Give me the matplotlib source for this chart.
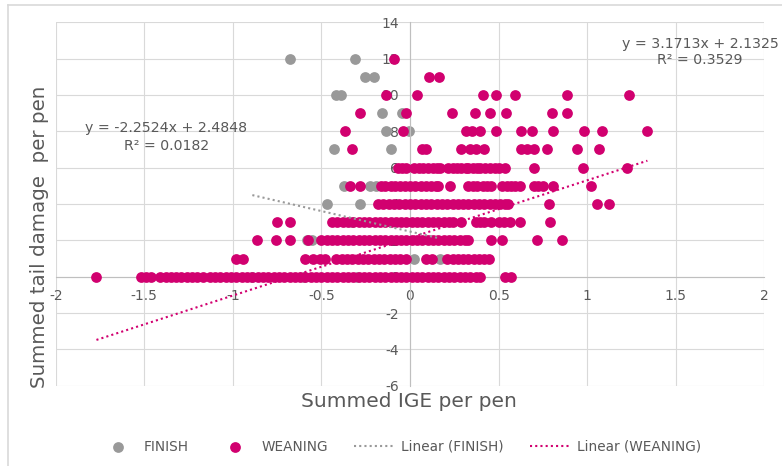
import matplotlib
matplotlib.use("Agg")
import matplotlib.pyplot as plt
from matplotlib.lines import Line2D
from matplotlib.ticker import FuncFormatter

plt.rcParams['font.family'] = ['DejaVu Sans']
plt.rcParams['axes.unicode_minus'] = False

# WEANING points, x values (summed IGE) per y level (summed tail damage)
weaning_rows = {
    12: [-0.09],
    11: [0.11, 0.165],
    10: [-0.135, 0.037, 0.41, 0.485, 0.595, 0.885, 1.235],
    9: [-0.28, -0.02, 0.235, 0.365, 0.45, 0.54, 0.80, 0.885],
    8: [-0.365, -0.04, 0.315, 0.35, 0.395, 0.485, 0.625, 0.69, 0.81, 0.98, 1.085, 1.34],
    7: [-0.325, 0.067, 0.09, 0.29, 0.34, 0.37, 0.42, 0.625, 0.66, 0.70, 0.775, 0.94, 1.065],
    6: [-0.07, -0.045, -0.02, 0.02, 0.05, 0.075, 0.10, 0.13, 0.155, 0.17, 0.215, 0.24, 0.265,
        0.29, 0.315, 0.33, 0.355, 0.38, 0.395, 0.425, 0.45, 0.48, 0.505, 0.535, 0.70, 0.975, 1.225],
    5: [-0.34, -0.285, -0.165, -0.14, -0.11, -0.085, -0.055, -0.03, 0.0, 0.03, 0.06, 0.09, 0.12,
        0.145, 0.16, 0.225, 0.33, 0.355, 0.38, 0.41, 0.435, 0.46, 0.52, 0.545, 0.57, 0.595, 0.62,
        0.70, 0.725, 0.75, 0.805, 1.02],
    4: [-0.18, -0.15, -0.12, -0.09, -0.06, -0.03, 0.0, 0.03, 0.06, 0.09, 0.12, 0.15, 0.18, 0.21,
        0.24, 0.27, 0.30, 0.33, 0.36, 0.39, 0.42, 0.45, 0.48, 0.51, 0.535, 0.555, 0.785, 1.055, 1.125],
    3: [-0.75, -0.68, -0.44, -0.41, -0.38, -0.35, -0.32, -0.29, -0.26, -0.23, -0.20, -0.17, -0.14,
        -0.11, -0.08, -0.05, -0.02, 0.01, 0.04, 0.07, 0.10, 0.13, 0.16, 0.19, 0.22, 0.245, 0.29,
        0.37, 0.395, 0.42, 0.46, 0.50, 0.53, 0.565, 0.62, 0.79],
    2: [-0.865, -0.755, -0.68, -0.575, -0.50, -0.47, -0.44, -0.41, -0.38, -0.35, -0.32, -0.29,
        -0.26, -0.23, -0.20, -0.17, -0.14, -0.11, -0.08, -0.05, -0.02, 0.01, 0.04, 0.07, 0.10,
        0.13, 0.16, 0.19, 0.22, 0.25, 0.28, 0.31, 0.33, 0.46, 0.52, 0.715, 0.86],
    1: [-0.985, -0.945, -0.59, -0.55, -0.51, -0.48, -0.415, -0.385, -0.355, -0.325, -0.295,
        -0.265, -0.235, -0.205, -0.175, -0.145, -0.115, -0.085, -0.055, -0.025, 0.09, 0.125,
        0.21, 0.24, 0.27, 0.30, 0.33, 0.36, 0.39, 0.42, 0.445],
    0: [-1.77, -1.52, -1.49, -1.46, -1.41, -1.38, -1.35, -1.32, -1.29, -1.26, -1.23, -1.20,
        -1.17, -1.13, -1.10, -1.07, -1.04, -1.01, -0.98, -0.95, -0.92, -0.89, -0.86, -0.83,
        -0.80, -0.77, -0.74, -0.71, -0.68, -0.65, -0.62, -0.59, -0.56, -0.53, -0.50, -0.47,
        -0.44, -0.41, -0.38, -0.35, -0.32, -0.29, -0.26, -0.23, -0.20, -0.17, -0.14, -0.11,
        -0.08, -0.05, -0.02, 0.01, 0.04, 0.07, 0.10, 0.13, 0.16, 0.19, 0.22, 0.25, 0.28,
        0.31, 0.34, 0.37, 0.395, 0.535, 0.57],
}

# FINISH points
finish_rows = {
    12: [-0.677, -0.31],
    11: [-0.255, -0.205],
    10: [-0.415, -0.39],
    9: [-0.16, -0.045],
    8: [-0.135, -0.005],
    7: [-0.43, -0.105],
    5: [-0.375, -0.225, -0.19],
    4: [-0.47, -0.28],
    3: [-0.33],
    2: [-0.58, -0.555],
    1: [0.02, 0.17],
    0: [-0.89, -0.6, -0.3],
}

# trendline coefficients shown on the chart
finish_fit = (-2.2524, 2.4848, 0.0182)
weaning_fit = (3.1713, 2.1325, 0.3529)

x_ticks = [-2, -1.5, -1, -0.5, 0, 0.5, 1, 1.5, 2]
y_ticks = [-6, -4, -2, 0, 2, 4, 6, 8, 10, 12, 14]

pink = '#d1006f'
grey = '#999999'
txt = '#595959'


def flatten(rows):
    xs, ys = [], []
    for yv, xl in rows.items():
        xs += xl
        ys += [yv] * len(xl)
    return xs, ys


fx, fy = flatten(finish_rows)
wx, wy = flatten(weaning_rows)

W, H = 782, 466
fig = plt.figure(figsize=(W / 100, H / 100), dpi=100)
ax = fig.add_axes([55.7 / W, 1 - 385.7 / H, 708.6 / W, 363.4 / H])

ax.set_xlim(-2, 2)
ax.set_ylim(-6, 14)
ax.set_xticks(x_ticks)
ax.set_yticks(y_ticks)
ax.xaxis.set_major_formatter(FuncFormatter(lambda v, p: '%g' % v))
ax.yaxis.set_major_formatter(FuncFormatter(lambda v, p: '%g' % v))
ax.grid(True, color='#d9d9d9', lw=0.8)
ax.set_axisbelow(True)
for s in ['top', 'right']:
    ax.spines[s].set_visible(False)
ax.spines['left'].set_position(('data', 0))
ax.spines['bottom'].set_position(('data', 0))
ax.spines['left'].set_color('#bfbfbf')
ax.spines['bottom'].set_color('#bfbfbf')
ax.tick_params(length=0, labelsize=10, labelcolor=txt)
ax.tick_params(axis='y', pad=8)
ax.tick_params(axis='x', pad=9)

ax.scatter(fx, fy, s=60, color=grey, lw=0, zorder=2, label='FINISH')
ax.scatter(wx, wy, s=60, color=pink, lw=0, zorder=3, label='WEANING')

# trendlines over each series' x range
xf = [min(fx), max(fx)]
ax.plot(xf, [finish_fit[0] * v + finish_fit[1] for v in xf], color=grey, lw=1.5,
        ls=(0, (1, 1.5)), zorder=4, label='Linear (FINISH)')
xw = [min(wx), max(wx)]
ax.plot(xw, [weaning_fit[0] * v + weaning_fit[1] for v in xw], color=pink, lw=1.5,
        ls=(0, (1, 1.5)), zorder=4, label='Linear (WEANING)')

ax.text(-1.377, 7.69, 'y = %.4fx + %.4f\nR² = %.4f' % finish_fit, ha='center', va='center',
        fontsize=10.2, color=txt, linespacing=1.3)
ax.text(1.637, 12.37, 'y = %.4fx + %.4f\nR² = %.4f' % weaning_fit, ha='center', va='center',
        fontsize=10.2, color=txt, linespacing=1.2)

fig.text(409 / W, 1 - 401.7 / H, 'Summed IGE per pen', ha='center', va='center',
         fontsize=14.5, color=txt)
fig.text(40 / W, 1 - 237 / H, 'Summed tail damage  per pen', ha='center', va='center',
         rotation=90, fontsize=14.3, color=txt)

h, l = ax.get_legend_handles_labels()
fig.legend(h, l, loc='center', bbox_to_anchor=(399 / W, 1 - 446.7 / H), ncol=4,
           frameon=False, fontsize=9.8, labelcolor=txt, handlelength=3.0,
           columnspacing=1.9, handletextpad=0.45)

# chart area border (top and left visible)
fig.add_artist(Line2D([7.7 / W, 1], [1 - 4.7 / H, 1 - 4.7 / H], color='#d9d9d9', lw=1.2))
fig.add_artist(Line2D([7.7 / W, 7.7 / W], [0, 1 - 4.7 / H], color='#d9d9d9', lw=1.2))

fig.savefig('out.png', dpi=100)
